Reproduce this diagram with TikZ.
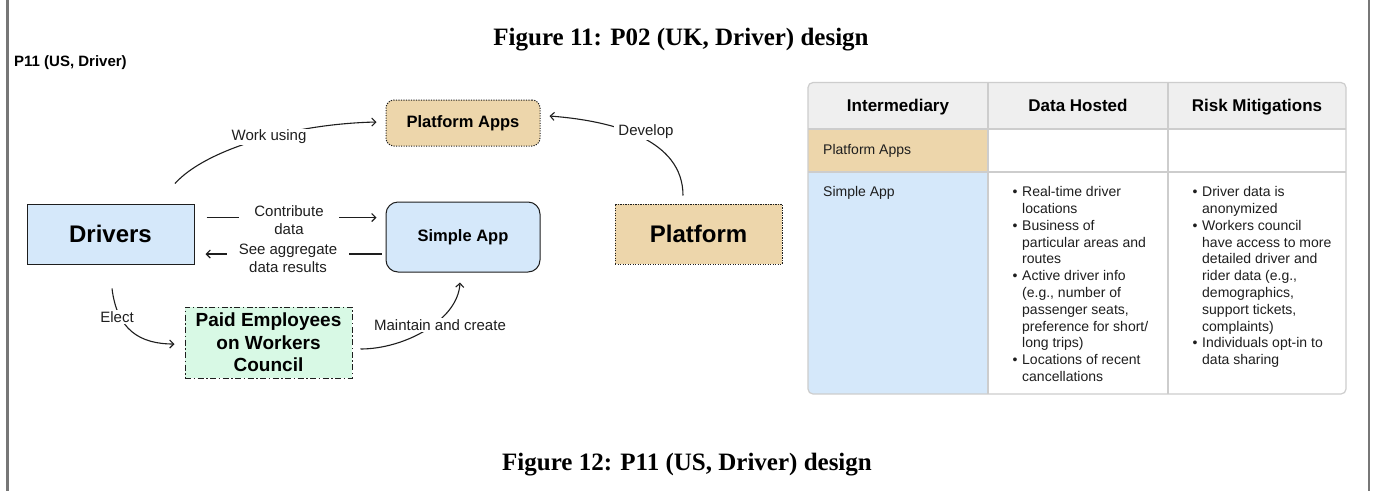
\documentclass[tikz,border=0pt]{standalone}
\usepackage{fontspec}
\setmainfont{Liberation Sans}
\newfontfamily\capfont{Liberation Serif}
\usetikzlibrary{arrows.meta,calc}
\definecolor{cTan}{HTML}{EDD6AB}
\definecolor{cBlue}{HTML}{D5E8FA}
\definecolor{cGreen}{HTML}{D8F9E5}
\definecolor{cHead}{HTML}{EFEFEF}
\definecolor{cGrid}{HTML}{CDCDCD}
\definecolor{cInk}{HTML}{1E1E1E}
\definecolor{cFrame}{HTML}{777777}
\newcommand{\myB}{\makebox[9.5pt][l]{\textbullet}}
\newcommand{\myI}{\hspace*{9.5pt}}
\tikzset{
  box/.style={draw=cInk, line width=1pt, inner sep=0pt, text=black, align=center},
  dotbox/.style={box, dash pattern=on 1.2pt off 1.3pt},
  conn/.style={draw=cInk, line width=1.1pt, -{Straight Barb[length=4pt,width=8pt]}},
  lbl/.style={fill=white, inner xsep=4pt, inner ysep=1pt, align=center, text=cInk,
    font=\fontsize{15}{17.5}\selectfont},
  capt/.style={font=\capfont\bfseries\fontsize{25}{29}\selectfont, inner sep=0pt},
  head/.style={anchor=base, inner sep=0pt, font=\bfseries\fontsize{17}{20}\selectfont},
  cell/.style={inner sep=0pt, align=left, font=\fontsize{14}{16.8}\selectfont, text=cInk}
}
\begin{document}
\begin{tikzpicture}[x=1pt,y=-1pt]
\useasboundingbox (0,0) rectangle (1374,491);
\fill[white] (0,0) rectangle (1374,491);
\draw[cFrame, line width=2.5pt] (7.5,0) -- (7.5,491);
\draw[cFrame, line width=2.5pt] (1369,0) -- (1369,491);

% captions and title
\node[capt] (cap11) at (681,40) {Figure 11: P02 (UK, Driver) design};
\node[capt] (cap12) at (687,465) {Figure 12: P11 (US, Driver) design};
\node[anchor=base west, inner sep=0pt, font=\bfseries\fontsize{15}{18}\selectfont] (ptitle) at (14,66) {P11 (US, Driver)};

% diagram nodes
\node[box, fill=cBlue, minimum width=167, minimum height=60,
  font=\bfseries\fontsize{24}{28}\selectfont] (drivers) at (110.5,234) {Drivers};
\node[box, fill=cBlue, rounded corners=12pt, minimum width=154, minimum height=70,
  font=\bfseries\fontsize{16.5}{20}\selectfont] (simple) at (463,237) {Simple App};
\node[dotbox, fill=cTan, rounded corners=8pt, minimum width=154, minimum height=46,
  font=\bfseries\fontsize{16.5}{20}\selectfont] (papps) at (463,123) {Platform Apps};
\node[dotbox, fill=cTan, minimum width=167, minimum height=60,
  font=\bfseries\fontsize{24}{28}\selectfont] (platform) at (698.5,234) {Platform};
\node[box, fill=cGreen, dash pattern=on 6pt off 2.5pt on 1.5pt off 2.5pt,
  minimum width=167, minimum height=71,
  font=\bfseries\fontsize{19}{22.5}\selectfont] (council) at (268.5,342.5) {Paid Employees\\on Workers\\Council};

% connectors
\draw[conn] ($(drivers.north)+(64.5,-20)$) .. controls (205,150) and (290,124) .. ($(papps.west)+(-9,-1)$);
\node[lbl] (lwork) at (269,137) {Work using};

\draw[conn] ($(platform.north)+(-15.5,-8)$) .. controls (683,140) and (615,121) .. ($(papps.east)+(9,-7)$);
\node[lbl] (ldev) at (646,132) {Develop};

\draw[conn] ($(drivers.east)+(12,-16.5)$) -- ($(simple.west)+(-9,-19.5)$);
\node[lbl, inner xsep=15pt] (lcontrib) at (289,220) {Contribute\\data};

\draw[conn] ($(simple.west)+(-4,17)$) -- ($(drivers.east)+(11,20)$);
\node[lbl, inner xsep=12pt] (lsee) at (288,258.5) {See aggregate\\data results};

\draw[conn] ($(drivers.south)+(1.5,24)$) .. controls (117,330) and (140,344) .. ($(council.west)+(-10,1.5)$);
\node[lbl] (lelect) at (117,317) {Elect};

\draw[conn] ($(council.east)+(8,6.5)$) .. controls (405,349) and (458,320) .. ($(simple.south)+(-3,10)$);
\node[lbl] (lmaint) at (440,325) {Maintain and create};

% table
\begin{scope}
\clip[rounded corners=5pt] (808,82.5) rectangle (1346,394);
\fill[cHead] (808,82.5) rectangle (1346,129);
\fill[cTan] (808,129) rectangle (988,172);
\fill[cBlue] (808,172) rectangle (988,394);
\end{scope}
\draw[cGrid, line width=1.2pt] (988,82.5) -- (988,394) (1168,82.5) -- (1168,394)
  (808,129) -- (1346,129) (808,172) -- (1346,172);
\draw[cGrid, line width=1.2pt, rounded corners=5pt] (808,82.5) rectangle (1346,394);

\node[head] (h1) at (898,111) {Intermediary};
\node[head] (h2) at (1078,111) {Data Hosted};
\node[head] (h3) at (1257,111) {Risk Mitigations};

\node[cell, anchor=base west] (r1) at (823,154) {Platform Apps};
\node[cell, anchor=base west] (r2) at (823,196.5) {Simple App};

\node[cell, anchor=north west] (dh) at (1012.5,184.7) {\strut\myB Real-time driver\\\myI locations\\\myB Business of\\\myI particular areas and\\\myI routes\\\myB Active driver info\\\myI (e.g., number of\\\myI passenger seats,\\\myI preference for short/\\\myI long trips)\\\myB Locations of recent\\\myI cancellations};

\node[cell, anchor=north west] (rm) at (1192.5,184.7) {\strut\myB Driver data is\\\myI anonymized\\\myB Workers council\\\myI have access to more\\\myI detailed driver and\\\myI rider data (e.g.,\\\myI demographics,\\\myI support tickets,\\\myI complaints)\\\myB Individuals opt-in to\\\myI data sharing};
\end{tikzpicture}
\end{document}
